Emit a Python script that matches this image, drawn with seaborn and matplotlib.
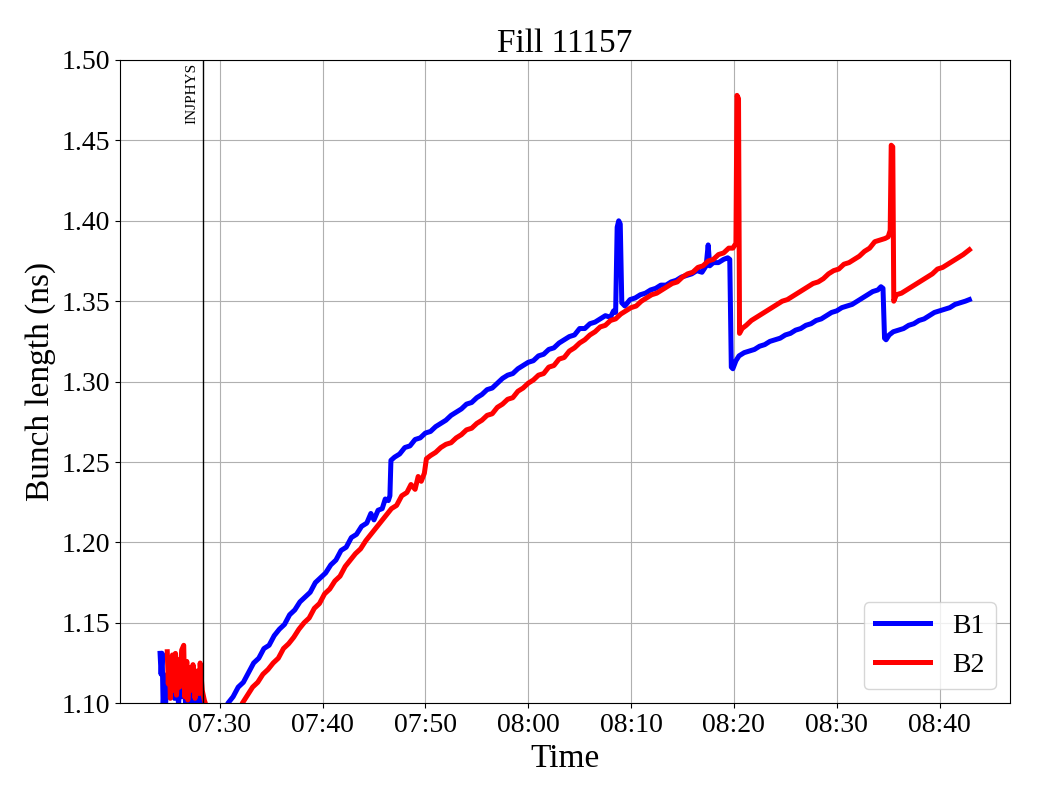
import pandas as pd
import matplotlib
matplotlib.use("Agg")
import matplotlib.pyplot as plt
import matplotlib.dates as mdates
from matplotlib.ticker import MultipleLocator
import seaborn as sns

plt.rcParams["font.family"] = "serif"
plt.rcParams["font.serif"] = ["Liberation Serif", "DejaVu Serif"]

FILL = 11157
T0 = pd.Timestamp("2025-09-20 07:00:00")
INJPHYS_MIN = 28.35

# minutes after 07:00 and bunch length (ns)
b1_minutes = [
    24.2, 24.3, 24.4, 24.5, 24.6, 24.7, 24.9, 25.0, 25.2, 25.3, 25.5, 25.6, 25.8,
    26.0, 26.1, 26.3, 26.5, 26.7, 26.9, 27.1, 27.3, 27.5, 27.7, 27.9, 28.1, 28.3,
    28.6, 29.2, 29.8, 30.3,
    30.8, 31.3, 31.8, 32.3, 32.8, 33.3, 33.8, 34.3, 34.8, 35.3, 35.8, 36.3, 36.8,
    37.3, 37.8, 38.3, 38.8, 39.3, 39.8, 40.3, 40.8, 41.3, 41.8, 42.3, 42.8, 43.3,
    43.8, 44.3, 44.7, 45.0, 45.4, 45.8, 46.1, 46.4, 46.55, 46.65, 47.0, 47.5, 48.0,
    48.5, 49.0, 49.5, 50.0, 50.5, 51.0, 51.5, 52.0, 52.5, 53.0, 53.5, 54.0, 54.5,
    55.0, 55.5, 56.0, 56.5, 57.0, 57.5, 58.0, 58.5, 59.0, 59.5, 60.0, 60.5, 61.0,
    61.5, 62.0, 62.5, 63.0, 63.5, 64.0, 64.5, 65.0, 65.5, 66.0, 66.5, 67.0, 67.5,
    68.0, 68.3, 68.5, 68.65, 68.8, 68.95, 69.1, 69.4, 69.9, 70.4, 70.9, 71.4, 71.9,
    72.4, 72.9, 73.4, 73.9, 74.4, 74.9, 75.4, 75.9, 76.4, 76.9, 77.3, 77.5, 77.65,
    78.0, 78.5, 79.0, 79.4, 79.6, 79.75, 79.9, 80.2, 80.5, 81.0, 81.5, 82.0, 82.5,
    83.0, 83.5, 84.0, 84.5, 85.0, 85.5, 86.0, 86.5, 87.0, 87.5, 88.0, 88.5, 89.0,
    89.5, 90.0, 90.5, 91.0, 91.5, 92.0, 92.5, 93.0, 93.5, 94.0, 94.3, 94.5, 94.65,
    94.8, 95.1, 95.5, 96.0, 96.5, 97.0, 97.5, 98.0, 98.5, 99.0, 99.5, 100.0, 100.5,
    101.0, 101.5, 102.0, 102.5, 102.9,
]
b1_length = [
    1.131, 1.118, 1.131, 1.098, 1.112, 1.095, 1.118, 1.104, 1.122, 1.110, 1.125, 1.103, 1.115,
    1.099, 1.112, 1.104, 1.118, 1.098, 1.109, 1.101, 1.112, 1.097, 1.106, 1.100, 1.104, 1.096,
    1.085, 1.060, 1.075, 1.090,
    1.100, 1.104, 1.110, 1.113, 1.119, 1.125, 1.128, 1.134, 1.136, 1.142, 1.146, 1.149, 1.155,
    1.158, 1.163, 1.166, 1.169, 1.175, 1.178, 1.181, 1.186, 1.189, 1.195, 1.197, 1.203, 1.205,
    1.210, 1.212, 1.218, 1.214, 1.220, 1.221, 1.227, 1.226, 1.229, 1.251, 1.253, 1.255, 1.259,
    1.260, 1.264, 1.265, 1.268, 1.269, 1.272, 1.274, 1.276, 1.279, 1.281, 1.283, 1.286, 1.287,
    1.290, 1.292, 1.295, 1.296, 1.299, 1.302, 1.304, 1.305, 1.308, 1.310, 1.312, 1.313, 1.316,
    1.317, 1.320, 1.321, 1.324, 1.326, 1.328, 1.329, 1.333, 1.333, 1.336, 1.337, 1.339, 1.341,
    1.340, 1.344, 1.343, 1.396, 1.400, 1.398, 1.349, 1.347, 1.351, 1.352, 1.354, 1.355, 1.357,
    1.358, 1.360, 1.360, 1.362, 1.363, 1.365, 1.366, 1.367, 1.369, 1.368, 1.372, 1.385, 1.372,
    1.374, 1.374, 1.376, 1.377, 1.376, 1.309, 1.308, 1.313, 1.316, 1.318, 1.319, 1.320, 1.322,
    1.323, 1.325, 1.326, 1.327, 1.329, 1.330, 1.332, 1.333, 1.335, 1.336, 1.338, 1.339, 1.341,
    1.343, 1.344, 1.346, 1.347, 1.348, 1.350, 1.352, 1.354, 1.356, 1.357, 1.359, 1.358, 1.327,
    1.326, 1.329, 1.331, 1.332, 1.333, 1.335, 1.336, 1.338, 1.339, 1.341, 1.343, 1.344, 1.345,
    1.346, 1.348, 1.349, 1.350, 1.351,
]

b2_minutes = [
    24.9, 25.0, 25.1, 25.2, 25.4, 25.5, 25.7, 25.8, 26.0, 26.1, 26.3, 26.5, 26.6,
    26.8, 26.9, 27.1, 27.3, 27.4, 27.6, 27.8, 28.0, 28.1, 28.3, 28.5, 28.8, 29.5,
    30.5, 31.5,
    32.2, 32.7, 33.2, 33.7, 34.2, 34.7, 35.2, 35.7, 36.2, 36.7, 37.2, 37.7, 38.2,
    38.7, 39.2, 39.7, 40.2, 40.7, 41.2, 41.7, 42.2, 42.7, 43.2, 43.7, 44.2, 44.7,
    45.2, 45.7, 46.2, 46.7, 47.2, 47.7, 48.2, 48.6, 49.0, 49.3, 49.6, 49.9, 50.1,
    50.5, 51.0, 51.5, 52.0, 52.5, 53.0, 53.5, 54.0, 54.5, 55.0, 55.5, 56.0, 56.5,
    57.0, 57.5, 58.0, 58.5, 59.0, 59.5, 60.0, 60.5, 61.0, 61.5, 62.0, 62.5, 63.0,
    63.5, 64.0, 64.5, 65.0, 65.5, 66.0, 66.5, 67.0, 67.5, 68.0, 68.5, 69.0, 69.5,
    70.0, 70.5, 71.0, 71.5, 72.0, 72.5, 73.0, 73.5, 74.0, 74.5, 75.0, 75.5, 76.0,
    76.5, 77.0, 77.5, 78.0, 78.5, 79.0, 79.5, 79.9, 80.2, 80.3, 80.45, 80.55, 80.8,
    81.2, 81.7, 82.2, 82.7, 83.2, 83.7, 84.2, 84.7, 85.2, 85.7, 86.2, 86.7, 87.2,
    87.7, 88.2, 88.7, 89.2, 89.7, 90.2, 90.7, 91.2, 91.7, 92.2, 92.7, 93.2, 93.7,
    94.2, 94.7, 95.0, 95.2, 95.3, 95.45, 95.55, 95.8, 96.3, 96.8, 97.3, 97.8, 98.3,
    98.8, 99.3, 99.8, 100.3, 100.8, 101.3, 101.8, 102.3, 102.9,
]
b2_length = [
    1.132, 1.112, 1.128, 1.103, 1.130, 1.108, 1.131, 1.105, 1.127, 1.110, 1.133, 1.136, 1.104,
    1.126, 1.102, 1.122, 1.108, 1.124, 1.103, 1.120, 1.106, 1.125, 1.108, 1.102, 1.096, 1.075,
    1.060, 1.085,
    1.100, 1.105, 1.110, 1.113, 1.118, 1.121, 1.125, 1.128, 1.134, 1.137, 1.141, 1.146, 1.150,
    1.153, 1.159, 1.162, 1.168, 1.171, 1.176, 1.179, 1.185, 1.189, 1.193, 1.196, 1.201, 1.205,
    1.209, 1.213, 1.217, 1.221, 1.223, 1.229, 1.231, 1.236, 1.233, 1.241, 1.238, 1.243, 1.252,
    1.254, 1.256, 1.259, 1.261, 1.262, 1.265, 1.267, 1.270, 1.271, 1.274, 1.276, 1.279, 1.280,
    1.284, 1.286, 1.289, 1.290, 1.294, 1.296, 1.299, 1.301, 1.304, 1.305, 1.309, 1.310, 1.314,
    1.315, 1.319, 1.321, 1.324, 1.326, 1.329, 1.331, 1.334, 1.335, 1.338, 1.339, 1.342, 1.344,
    1.346, 1.347, 1.350, 1.352, 1.354, 1.355, 1.357, 1.359, 1.361, 1.362, 1.365, 1.367, 1.368,
    1.371, 1.372, 1.375, 1.376, 1.379, 1.380, 1.383, 1.383, 1.386, 1.478, 1.476, 1.330, 1.333,
    1.335, 1.338, 1.340, 1.342, 1.344, 1.346, 1.348, 1.350, 1.351, 1.353, 1.355, 1.357, 1.359,
    1.361, 1.362, 1.364, 1.367, 1.369, 1.370, 1.373, 1.374, 1.376, 1.378, 1.381, 1.383, 1.387,
    1.388, 1.389, 1.390, 1.394, 1.447, 1.446, 1.350, 1.354, 1.355, 1.357, 1.359, 1.361, 1.363,
    1.365, 1.367, 1.370, 1.371, 1.373, 1.375, 1.377, 1.379, 1.382,
]


def to_time(minutes):
    return T0 + pd.to_timedelta(minutes, unit="min")


fig, ax = plt.subplots(figsize=(10.4, 8), dpi=100)
fig.subplots_adjust(left=0.115, right=0.971, bottom=0.121, top=0.925)

sns.lineplot(x=to_time(b1_minutes), y=b1_length, color="blue", lw=3.6,
             label="B1", estimator=None, ax=ax)
sns.lineplot(x=to_time(b2_minutes), y=b2_length, color="red", lw=3.6,
             label="B2", estimator=None, ax=ax)

inj = to_time([INJPHYS_MIN])[0]
ax.axvline(inj, color="black", lw=1)
ax.annotate("INJPHYS", xy=(inj, 1.50), xytext=(-3, -2), textcoords="offset points",
            rotation=90, ha="right", va="top", fontsize=11)

ax.set_ylim(1.10, 1.50)
ax.yaxis.set_major_locator(MultipleLocator(0.05))
ax.xaxis.set_major_locator(mdates.MinuteLocator(byminute=range(0, 60, 10)))
ax.xaxis.set_major_formatter(mdates.DateFormatter("%H:%M"))
ax.tick_params(labelsize=20)
ax.grid(True)

ax.set_title(f"Fill {FILL}", fontsize=24)
ax.set_xlabel("Time", fontsize=24)
ax.set_ylabel("Bunch length (ns)", fontsize=24)
ax.legend(loc="lower right", fontsize=20)

plt.savefig("out.png")
plt.close()
